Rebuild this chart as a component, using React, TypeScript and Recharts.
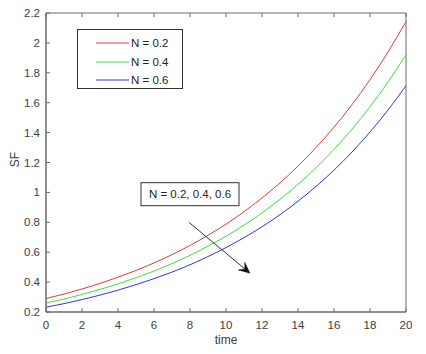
import React from 'react';
import { LineChart, Line, XAxis, YAxis, ReferenceLine, ReferenceDot, ReferenceArea } from 'recharts';

const timeValues = [0, 1, 2, 3, 4, 5, 6, 7, 8, 9, 10, 11, 12, 13, 14, 15, 16, 17, 18, 19, 20];
const sfN02 = [0.290, 0.320, 0.354, 0.391, 0.433, 0.478, 0.528, 0.584, 0.645, 0.713, 0.788, 0.871, 0.963, 1.064, 1.176, 1.300, 1.436, 1.587, 1.754, 1.939, 2.143];
const sfN04 = [0.260, 0.287, 0.317, 0.351, 0.388, 0.429, 0.474, 0.524, 0.579, 0.640, 0.707, 0.781, 0.863, 0.954, 1.054, 1.165, 1.288, 1.423, 1.573, 1.738, 1.921];
const sfN06 = [0.232, 0.256, 0.283, 0.313, 0.346, 0.383, 0.423, 0.467, 0.516, 0.571, 0.631, 0.697, 0.770, 0.851, 0.941, 1.040, 1.149, 1.270, 1.404, 1.551, 1.714];

const xTicks = [0, 2, 4, 6, 8, 10, 12, 14, 16, 18, 20];
const yTicks = [0.2, 0.4, 0.6, 0.8, 1, 1.2, 1.4, 1.6, 1.8, 2, 2.2];

const seriesNames = ['N = 0.2', 'N = 0.4', 'N = 0.6'];
const seriesColors = ['#e23b36', '#3ce03c', '#3434dc'];
const annotationText = 'N = 0.2, 0.4, 0.6';
const xLabel = 'time';
const yLabel = 'SF';

const data = timeValues.map((t, i) => ({ t, a: sfN02[i], b: sfN04[i], c: sfN06[i] }));

const FONT = '"Liberation Sans", Arial, Helvetica, sans-serif';
const AXIS = '#6a6a6a';
const TXT = '#404040';
const TL = 4;

const BottomTick = (props: any) => {
  const { x, y, payload } = props;
  return (
    <g>
      <line x1={x} x2={x} y1={y - 9} y2={y - 9 - TL} stroke={AXIS} strokeWidth={1} />
      <text x={x} y={y} dy="0.71em" textAnchor="middle" fill={TXT} fontSize={11.5} fontFamily={FONT}>
        {payload.value}
      </text>
    </g>
  );
};

const LeftTick = (props: any) => {
  const { x, y, payload } = props;
  return (
    <g>
      <line x1={x + 6} x2={x + 6 + TL} y1={y} y2={y} stroke={AXIS} strokeWidth={1} />
      <text x={x} y={y} dy="0.355em" textAnchor="end" fill={TXT} fontSize={11.5} fontFamily={FONT}>
        {payload.value}
      </text>
    </g>
  );
};

const TopTick = (props: any) => {
  const { x, y } = props;
  return <line x1={x} x2={x} y1={y} y2={y + TL} stroke={AXIS} strokeWidth={1} />;
};

const RightTick = (props: any) => {
  const { x, y } = props;
  return <line x1={x} x2={x - TL} y1={y} y2={y} stroke={AXIS} strokeWidth={1} />;
};

const ArrowShape = (props: any) => {
  const { x1, y1, x2, y2 } = props;
  const dx = x2 - x1;
  const dy = y2 - y1;
  const len = Math.sqrt(dx * dx + dy * dy);
  const ux = dx / len;
  const uy = dy / len;
  const px = -uy;
  const py = ux;
  const hl = 11;
  const hw = 5;
  const bx = x2 - ux * hl;
  const by = y2 - uy * hl;
  const nx = x2 - ux * hl * 0.6;
  const ny = y2 - uy * hl * 0.6;
  const pts = `${x2},${y2} ${bx + px * hw},${by + py * hw} ${nx},${ny} ${bx - px * hw},${by - py * hw}`;
  return (
    <g>
      <line x1={x1} y1={y1} x2={nx} y2={ny} stroke="#333" strokeWidth={1} />
      <polygon points={pts} fill="#111" stroke="#111" strokeWidth={0.5} />
    </g>
  );
};

const AnnotationBox = (props: any) => {
  const { cx, cy } = props;
  const w = 98;
  const h = 23;
  return (
    <g>
      <rect x={cx - w / 2} y={cy - h / 2} width={w} height={h} fill="#fff" stroke="#333" strokeWidth={1} />
      <text x={cx} y={cy} dy="0.355em" textAnchor="middle" fill="#222" fontSize={11.5} fontFamily={FONT}>
        {annotationText}
      </text>
    </g>
  );
};

const LegendBox = () => (
  <div
    style={{
      position: 'absolute',
      left: 77,
      top: 29,
      width: 104,
      height: 58,
      border: '1px solid #333',
      background: '#fff',
      boxSizing: 'content-box',
    }}
  >
    {seriesNames.map((name, i) => (
      <div
        key={name}
        style={{ position: 'absolute', left: 0, top: 4 + i * 18.7, height: 18, display: 'flex', alignItems: 'center' }}
      >
        <svg width={52} height={18} style={{ display: 'block' }}>
          <line x1={18} x2={51} y1={9} y2={9} stroke={seriesColors[i]} strokeWidth={1} />
        </svg>
        <span style={{ fontFamily: FONT, fontSize: 11.5, color: '#222', marginLeft: 1, lineHeight: '18px', whiteSpace: 'nowrap' }}>{name}</span>
      </div>
    ))}
  </div>
);

export default function App() {
  return (
    <div style={{ position: 'absolute', left: 0, top: 0, width: 426, height: 354, background: '#fff' }}>
      <LineChart width={426} height={354} data={data} margin={{ top: 12, right: 19, bottom: 0, left: 0 }}>
        <XAxis
          dataKey="t"
          type="number"
          domain={[0, 20]}
          ticks={xTicks}
          height={42}
          tickSize={0}
          tickMargin={9}
          tick={BottomTick}
          axisLine={{ stroke: AXIS }}
          interval={0}
          label={{ value: xLabel, position: 'insideBottom', offset: 10, fill: TXT, fontSize: 12, fontFamily: FONT }}
        />
        <XAxis
          xAxisId="top"
          orientation="top"
          dataKey="t"
          type="number"
          domain={[0, 20]}
          ticks={xTicks}
          height={1}
          tickSize={0}
          tickMargin={0}
          tick={TopTick}
          axisLine={false}
          interval={0}
        />
        <YAxis
          type="number"
          domain={[0.2, 2.2]}
          ticks={yTicks}
          width={46}
          tickSize={0}
          tickMargin={6}
          tick={LeftTick}
          axisLine={{ stroke: AXIS }}
          interval={0}
          label={{
            content: (p: any) => {
              const vb = p.viewBox || { x: 0, y: 13, width: 46, height: 299 };
              const cx = vb.x + 15;
              const cy = vb.y + vb.height / 2 - 3;
              return (
                <text
                  x={cx}
                  y={cy}
                  transform={`rotate(-90, ${cx}, ${cy})`}
                  textAnchor="middle"
                  dy="0.355em"
                  fill={TXT}
                  fontSize={12}
                  fontFamily={FONT}
                >
                  {yLabel}
                </text>
              );
            },
          }}
        />
        <YAxis
          yAxisId="right"
          orientation="right"
          type="number"
          domain={[0.2, 2.2]}
          ticks={yTicks}
          width={1}
          tickSize={0}
          tickMargin={0}
          tick={RightTick}
          axisLine={false}
          interval={0}
        />
        <ReferenceArea x1={0} x2={20} y1={0.2} y2={2.2} fill="none" fillOpacity={0} stroke={AXIS} strokeWidth={1} ifOverflow="visible" />
        <Line type="monotone" dataKey="a" name={seriesNames[0]} stroke={seriesColors[0]} strokeWidth={1} dot={false} isAnimationActive={false} />
        <Line type="monotone" dataKey="b" name={seriesNames[1]} stroke={seriesColors[1]} strokeWidth={1} dot={false} isAnimationActive={false} />
        <Line type="monotone" dataKey="c" name={seriesNames[2]} stroke={seriesColors[2]} strokeWidth={1} dot={false} isAnimationActive={false} />
        <ReferenceLine
          segment={[{ x: 7.94, y: 0.8 }, { x: 11.33, y: 0.46 }]}
          shape={ArrowShape}
          ifOverflow="visible"
        />
        <ReferenceDot x={8} y={0.988} r={0} shape={AnnotationBox} ifOverflow="visible" />
      </LineChart>
      <LegendBox />
    </div>
  );
}
